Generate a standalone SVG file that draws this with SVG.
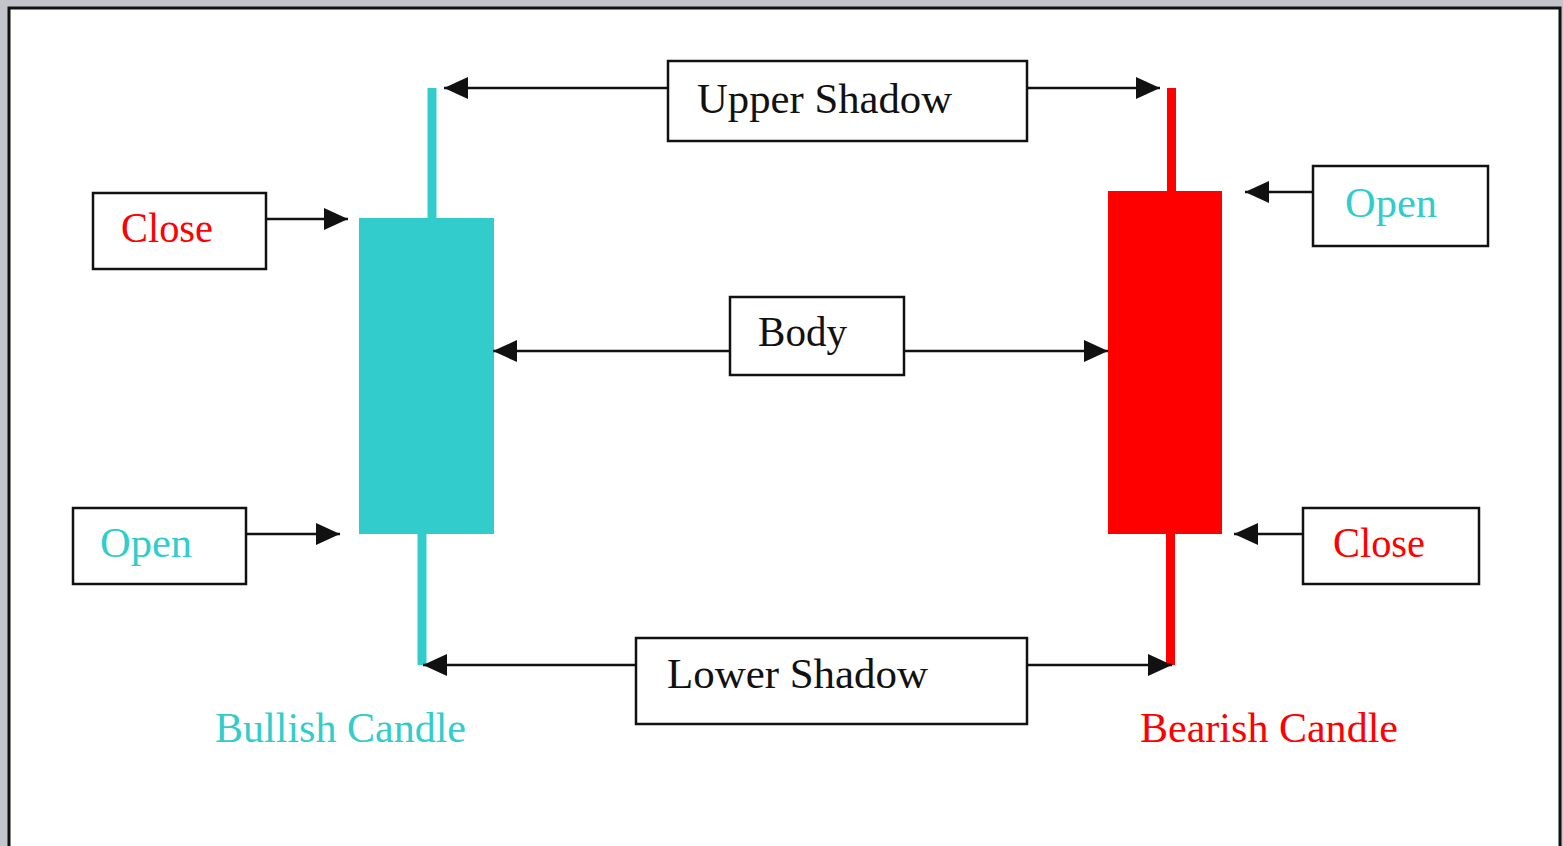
<svg xmlns="http://www.w3.org/2000/svg" width="1563" height="846" viewBox="0 0 1563 846">
<style>
.box{fill:#fff;stroke:#111;stroke-width:2.5}
.lbl{font-family:"Liberation Serif","Times New Roman",serif;font-size:42px}
.blk{fill:#111}
.cy{fill:#33CCCC}
.rd{fill:#FF0000}
.con line{stroke:#111;stroke-width:2.5;marker-end:url(#ah)}
</style>
<defs>
<marker id="ah" markerUnits="userSpaceOnUse" markerWidth="24" markerHeight="22" refX="24" refY="11" orient="auto">
<path d="M0,0 L24,11 L0,22 Z" fill="#111"/>
</marker>
</defs>
<rect x="0" y="0" width="1563" height="846" fill="#c3c5cb"/>
<rect x="9" y="8" width="1551" height="850" fill="#fff" stroke="#111" stroke-width="3"/>

<g id="bullish-candle">
<rect x="427.5" y="88" width="9" height="132" class="cy"/>
<rect x="359" y="218" width="135" height="316" class="cy"/>
<rect x="417.5" y="532" width="9" height="133" class="cy"/>
</g>
<g id="bearish-candle">
<rect x="1167" y="88" width="9" height="105" class="rd"/>
<rect x="1108" y="191" width="114" height="343" class="rd"/>
<rect x="1166" y="532" width="9" height="133" class="rd"/>
</g>

<g class="con" id="connectors">
<line x1="668" y1="88" x2="444" y2="88"/>
<line x1="1027" y1="88" x2="1160" y2="88"/>
<line x1="266" y1="219" x2="348" y2="219"/>
<line x1="246" y1="534" x2="340" y2="534"/>
<line x1="730" y1="351" x2="493" y2="351"/>
<line x1="904" y1="351" x2="1108" y2="351"/>
<line x1="1313" y1="192" x2="1245" y2="192"/>
<line x1="1303" y1="534" x2="1234" y2="534"/>
<line x1="636" y1="665" x2="423" y2="665"/>
<line x1="1027" y1="665" x2="1172" y2="665"/>
</g>

<g id="upper-shadow">
<rect x="668" y="61" width="359" height="80" class="box"/>
<text x="697" y="113" class="lbl blk" textLength="255" lengthAdjust="spacingAndGlyphs">Upper Shadow</text>
</g>
<g id="close-left">
<rect x="93" y="193" width="173" height="76" class="box"/>
<text x="121" y="242" class="lbl rd" textLength="92" lengthAdjust="spacingAndGlyphs">Close</text>
</g>
<g id="open-left">
<rect x="73" y="508" width="173" height="76" class="box"/>
<text x="100" y="557" class="lbl cy" textLength="92" lengthAdjust="spacingAndGlyphs">Open</text>
</g>
<g id="body">
<rect x="730" y="297" width="174" height="78" class="box"/>
<text x="758" y="346" class="lbl blk" textLength="89" lengthAdjust="spacingAndGlyphs">Body</text>
</g>
<g id="open-right">
<rect x="1313" y="166" width="175" height="80" class="box"/>
<text x="1345" y="217" class="lbl cy" textLength="92" lengthAdjust="spacingAndGlyphs">Open</text>
</g>
<g id="close-right">
<rect x="1303" y="508" width="176" height="76" class="box"/>
<text x="1333" y="557" class="lbl rd" textLength="92" lengthAdjust="spacingAndGlyphs">Close</text>
</g>
<g id="lower-shadow">
<rect x="636" y="638" width="391" height="86" class="box"/>
<text x="667" y="688" class="lbl blk" textLength="261" lengthAdjust="spacingAndGlyphs">Lower Shadow</text>
</g>
<g id="captions">
<text x="215" y="742" class="lbl cy" textLength="251" lengthAdjust="spacingAndGlyphs">Bullish Candle</text>
<text x="1140" y="742" class="lbl rd" textLength="258" lengthAdjust="spacingAndGlyphs">Bearish Candle</text>
</g>
</svg>
